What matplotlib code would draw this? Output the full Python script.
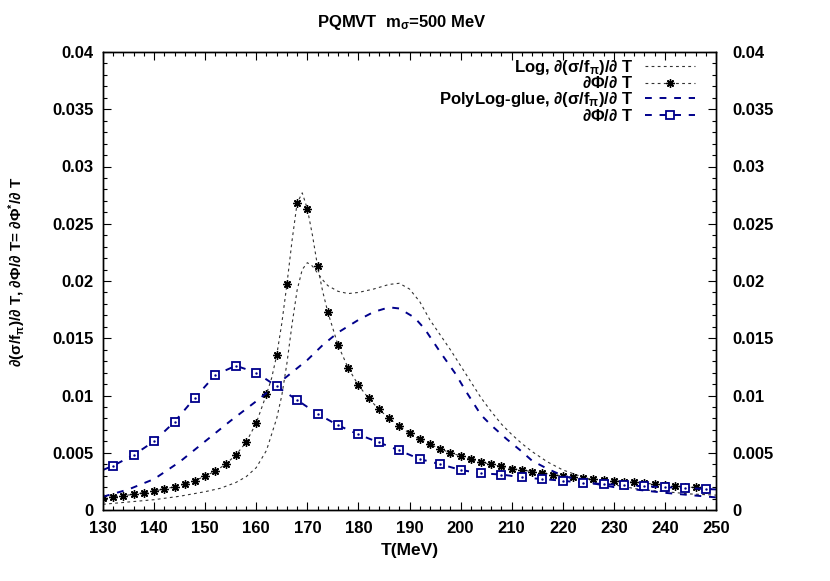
import matplotlib
matplotlib.use("Agg")
import matplotlib.pyplot as plt
from matplotlib.ticker import MultipleLocator, FuncFormatter

plt.rcParams['font.family'] = ['Liberation Sans', 'DejaVu Sans']
plt.rcParams['font.weight'] = 'bold'
plt.rcParams['font.size'] = 12
plt.rcParams['mathtext.fontset'] = 'custom'
plt.rcParams['mathtext.rm'] = 'Liberation Sans'
plt.rcParams['mathtext.it'] = 'Liberation Sans:italic'
plt.rcParams['mathtext.bf'] = 'Liberation Sans:bold'

# Log model, d(sigma/f_pi)/dT (thin dotted)
T_log_sig = [130, 135, 140, 145, 150, 153, 156, 158, 160, 162, 164, 165, 166, 167, 168,
             169, 170, 171, 172, 173, 174, 176, 178, 180, 183, 186, 188, 190, 192, 194,
             196, 198, 200, 202, 204, 206, 208, 210, 212, 214, 217, 220, 225, 230, 235,
             240, 245, 250]
log_sig = [0.0005, 0.0007, 0.0009, 0.0012, 0.0016, 0.0019, 0.0024, 0.0029, 0.0037, 0.0052,
           0.0080, 0.0100, 0.0128, 0.0162, 0.0192, 0.0210, 0.0216, 0.0213, 0.0207, 0.0201,
           0.0196, 0.0191, 0.0189, 0.0190, 0.0193, 0.0197, 0.0198, 0.0193, 0.0182, 0.0166,
           0.0153, 0.0140, 0.0126, 0.0112, 0.0098, 0.0086, 0.0075, 0.0066, 0.0058, 0.0051,
           0.0042, 0.0035, 0.0027, 0.0022, 0.0018, 0.0016, 0.0014, 0.0013]

# Log model, dPhi/dT (dotted + stars at even T)
T_log_phi = [130, 132, 134, 136, 138, 140, 142, 144, 146, 148, 150, 152, 154, 156, 158,
             160, 162, 163, 164, 165, 166, 167, 168, 169, 170, 171, 172, 173, 174, 176,
             178, 180, 182, 184, 186, 188, 190, 192, 194, 196, 198, 200, 202, 204, 206,
             208, 210, 212, 214, 216, 218, 220, 222, 224, 226, 228, 230, 232, 234, 236,
             238, 240, 242, 244, 246, 248, 250]
log_phi = [0.00102, 0.00116, 0.00125, 0.00137, 0.00151, 0.00166, 0.00183, 0.00203, 0.00227,
           0.00256, 0.00297, 0.0034, 0.0040, 0.0048, 0.0059, 0.0076, 0.0101, 0.0115, 0.0135,
           0.0163, 0.0197, 0.0235, 0.0268, 0.0277, 0.0263, 0.0240, 0.0213, 0.0191, 0.0173,
           0.0144, 0.0124, 0.0109, 0.00975, 0.0088, 0.0080, 0.00734, 0.0067, 0.00617, 0.00574,
           0.00533, 0.0050, 0.00472, 0.00443, 0.00417, 0.0040, 0.0038, 0.0036, 0.0035, 0.00335,
           0.00323, 0.0031, 0.00297, 0.00286, 0.00277, 0.00268, 0.0026, 0.00256, 0.00247,
           0.00242, 0.00236, 0.00224, 0.00215, 0.0021, 0.00198, 0.00198, 0.00186, 0.0018]

# PolyLog-glue, d(sigma/f_pi)/dT (dashed)
T_poly_sig = [130, 135, 140, 145, 150, 155, 160, 165, 170, 173, 176, 180, 183, 186, 188,
              191, 193, 196, 199, 201, 204, 206, 209, 212, 214, 217, 220, 225, 230, 240, 250]
poly_sig = [0.00116, 0.0018, 0.0027, 0.0042, 0.0060, 0.0078, 0.0095, 0.0113, 0.0131, 0.0144,
            0.0155, 0.0166, 0.0173, 0.0177, 0.0176, 0.0168, 0.0158, 0.0138, 0.0119, 0.0104,
            0.0083, 0.0074, 0.0062, 0.0051, 0.0043, 0.0036, 0.0030, 0.0024, 0.0020, 0.0015,
            0.0011]

# PolyLog-glue, dPhi/dT (dashed + squares every 4 MeV from 132)
T_poly_phi = [130, 132, 136, 140, 144, 148, 152, 156, 160, 164, 168, 172, 176, 180, 184,
              188, 192, 196, 200, 204, 208, 212, 216, 220, 224, 228, 232, 236, 240, 244,
              248, 250]
poly_phi = [0.0035, 0.00387, 0.0048, 0.0060, 0.0077, 0.0098, 0.0118, 0.0126, 0.0120, 0.0108,
            0.0096, 0.0084, 0.0074, 0.0066, 0.0059, 0.0052, 0.00445, 0.0040, 0.0035, 0.0032,
            0.0031, 0.00285, 0.0027, 0.00256, 0.00236, 0.00227, 0.00216, 0.00207, 0.00199,
            0.00192, 0.00183, 0.0018]

navy = '#00008b'
dotted = (0, (2.5, 3))
dashed = (0, (3.5, 4))
star_idx = [i for i, t in enumerate(T_log_phi) if t % 2 == 0 and t < 250]
sq_idx = list(range(1, len(T_poly_phi) - 1))

fig = plt.figure(figsize=(8.3, 5.81), dpi=100)
ax = fig.add_axes([103 / 830, 71 / 581, 613 / 830, 458 / 581])

ax.plot(T_log_sig, log_sig, color='#333333', lw=0.8, ls=dotted,
        label=r'Log, $\mathrm{\partial(\sigma/}\mathbf{f}_{\mathrm{\pi}}\mathrm{)/\partial}$ T')
ax.plot(T_log_phi, log_phi, color='#333333', lw=0.8, ls=dotted,
        marker=(8, 2, 0), ms=6, mew=1.0, mec='black', markevery=star_idx,
        label=r'$\mathrm{\partial\Phi/\partial}$ T')
ax.plot(T_poly_sig, poly_sig, color=navy, lw=1.4, ls=dashed,
        label=r'PolyLog-glue, $\mathrm{\partial(\sigma/}\mathbf{f}_{\mathrm{\pi}}\mathrm{)/\partial}$ T')
ax.plot(T_poly_phi, poly_phi, color=navy, lw=1.4, ls=dashed,
        marker='s', ms=5.5, mfc='white', mec=navy, mew=1.3, markevery=sq_idx,
        label=r'$\mathrm{\partial\Phi/\partial}$ T')
# center dot of the square symbols
ax.plot(T_poly_phi[1:-1], poly_phi[1:-1], ls='none', marker='.', ms=1.5, color=navy)

ax.set_xlim(130, 250)
ax.set_ylim(0, 0.04)
ax.xaxis.set_major_locator(MultipleLocator(10))
ax.xaxis.set_minor_locator(MultipleLocator(2))
ax.yaxis.set_major_locator(MultipleLocator(0.005))
ax.yaxis.set_minor_locator(MultipleLocator(0.001))
fmt = FuncFormatter(lambda v, p: '%g' % round(v, 4))
ax.yaxis.set_major_formatter(fmt)
ax.tick_params(which='both', direction='in', top=True, right=False, width=0.8)
ax.tick_params(which='major', length=6)
ax.tick_params(which='minor', length=3)
ax.tick_params(axis='y', pad=7)
ax.tick_params(axis='x', pad=8)

ax2 = ax.twinx()
ax2.set_ylim(0, 0.04)
ax2.yaxis.set_major_locator(MultipleLocator(0.005))
ax2.yaxis.set_minor_locator(MultipleLocator(0.001))
ax2.yaxis.set_major_formatter(fmt)
ax2.tick_params(which='both', direction='in', width=0.8)
ax2.tick_params(which='major', length=6, pad=12)
ax2.tick_params(which='minor', length=3)

for a in (ax, ax2):
    for s in a.spines.values():
        s.set_linewidth(1.0)

leg = ax.legend(loc='upper right', bbox_to_anchor=(0.977, 1.002), frameon=False,
                markerfirst=False, handlelength=3.0, handletextpad=0.7,
                labelspacing=-0.08, borderaxespad=0, numpoints=1)
for col in leg._legend_handle_box.get_children():
    col.align = 'right'

fig.text(402 / 830, 1 - 23 / 581, r'PQMVT  m$_{\mathrm{\sigma}}$=500 MeV',
         ha='center', va='center', fontsize=12, fontweight='bold')
fig.text(410 / 830, 1 - 551 / 581, 'T(MeV)', ha='center', va='center',
         fontsize=12.5, fontweight='bold')
fig.text(17 / 830, 1 - 272 / 581,
         r'$\mathrm{\partial(\sigma/}\mathbf{f}_{\mathrm{\pi}}\mathrm{)/\partial}$ T, '
         r'$\mathrm{\partial\Phi/\partial}$ T= $\mathrm{\partial\Phi^{*}/\partial}$ T',
         ha='center', va='center', rotation=90, fontsize=11, fontweight='bold')

fig.savefig('out.png', dpi=100)
